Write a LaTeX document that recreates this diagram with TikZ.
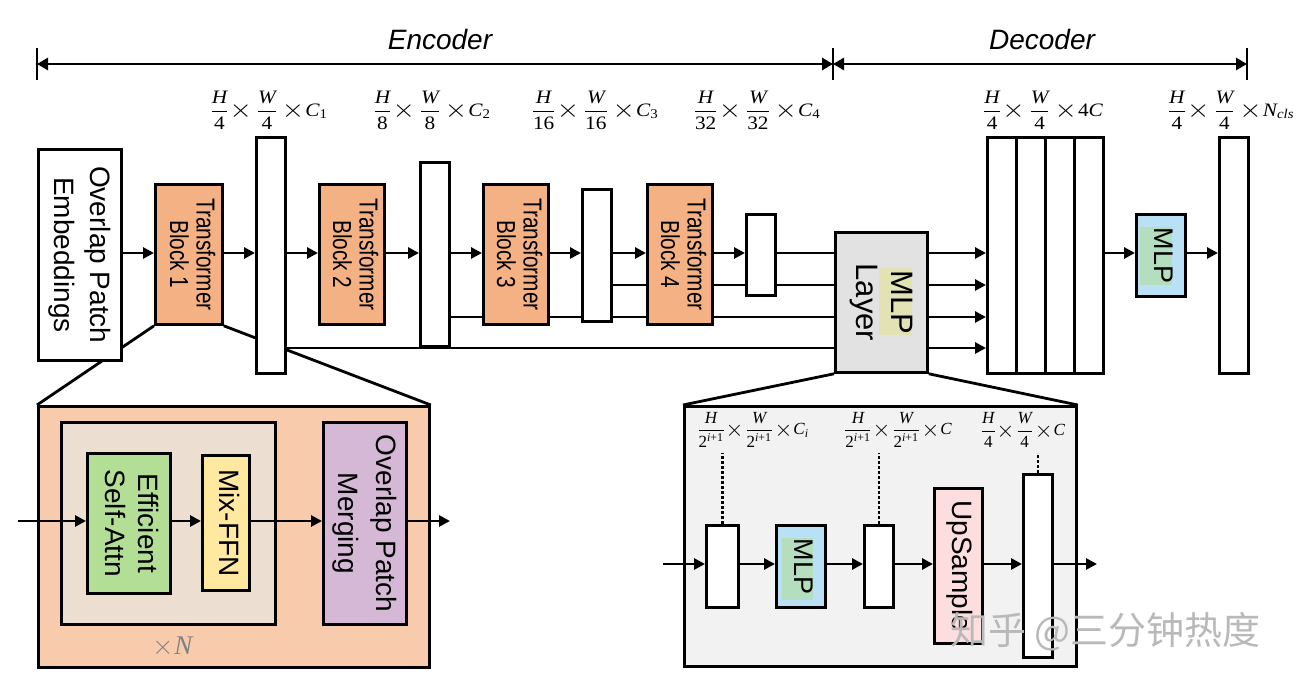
\RequirePackage{fix-cm}
\documentclass[tikz,border=0pt]{standalone}
\usepackage{amsmath}
\usepackage{fontspec}
\setmainfont{Liberation Sans}
\newfontfamily\serf{Liberation Serif}
\newfontfamily\cjk{Noto Sans CJK SC}
\usepackage{graphicx}
\usetikzlibrary{arrows.meta,backgrounds}
\definecolor{cOrange}{RGB}{244,177,131}
\definecolor{cPeach}{RGB}{248,203,173}
\definecolor{cInner}{RGB}{237,222,210}
\definecolor{cGreen}{RGB}{178,222,150}
\definecolor{cYellow}{RGB}{255,232,160}
\definecolor{cPurple}{RGB}{213,184,214}
\definecolor{cGrayL}{RGB}{226,226,226}
\definecolor{cPanel}{RGB}{242,242,242}
\definecolor{cBlue}{RGB}{186,224,246}
\definecolor{cMint}{RGB}{180,222,190}
\definecolor{cHiY}{RGB}{226,226,180}
\definecolor{cPink}{RGB}{252,222,222}
\newcommand\vt[3]{\rotatebox{-90}{#2\scalebox{#1}[1]{\begin{tabular}{@{}c@{}}#3\end{tabular}}}}
\newcommand\mi[1]{\text{\serf\itshape #1}}
\newcommand\mn[1]{\text{\serf #1}}
\newcommand\tms{\mathord{\raisebox{-0.09em}{\scalebox{1.35}{$\times$}}}}
\newcommand\lbl[2]{\scalebox{1.12}[1]{$\dfrac{\mi{H}}{#1}\mkern1mu\tms\mkern4mu\dfrac{\mi{W}}{#1}\mkern4mu\tms\mkern1mu #2$}}
\newcommand\lbls[2]{$\dfrac{\mi{H}}{#1}\mkern1mu\tms\mkern2mu\dfrac{\mi{W}}{#1}\mkern2mu\tms\mkern1mu #2$}
\begin{document}
\begin{tikzpicture}[x=1pt,y=-1pt,
  bx/.style={draw, line width=2.8pt, inner sep=0pt, anchor=north west},
  arr/.style={line width=2.8pt, -{Triangle[length=11pt,width=11pt]}},
  ln/.style={line width=2.8pt},
  tx/.style={inner sep=0pt},
  hl/.style={inner sep=0pt, anchor=north west, draw=none},
  dotl/.style={line width=2.8pt, dash pattern=on 2.5pt off 2.5pt},
  mlab/.style={inner sep=0pt, font=\fontsize{19}{22}\selectfont},
  slab/.style={inner sep=0pt, font=\fontsize{17}{20}\selectfont},
  barr/.style={line width=2.8pt, {Triangle[length=11pt,width=12pt]}-{Triangle[length=11pt,width=12pt]}},
]
\useasboundingbox (0,0) rectangle (1302,684);

% level coordinates
\coordinate (y1) at (0,253);
\coordinate (y2) at (0,285);
\coordinate (y3) at (0,317);
\coordinate (y4) at (0,348);

% Encoder / Decoder bar
\coordinate (eL) at (37,64);
\coordinate (eM) at (833,64);
\coordinate (eR) at (1247,64);
\draw[ln] (eL) ++(0,-16) -- ++(0,32);
\draw[ln] (eM) ++(0,-16) -- ++(0,32);
\draw[ln] (eR) ++(0,-16) -- ++(0,32);
\draw[barr] (eL) -- (eM);
\draw[barr] (eM) -- (eR);
\node[tx, font=\fontsize{28}{30}\selectfont\itshape] (enct) at (440,40) {Encoder};
\node[tx, font=\fontsize{28}{30}\selectfont\itshape] (dect) at (1042,40) {Decoder};

% encoder boxes
\node[bx, fill=white, minimum width=83pt, minimum height=211pt] (emb) at (37,148) {};
\node[bx, fill=cOrange, minimum width=67pt, minimum height=140pt] (tb1) at (154,183) {};
\node[bx, fill=white, minimum width=29pt, minimum height=236pt] (fm1) at (255,136) {};
\node[bx, fill=cOrange, minimum width=65pt, minimum height=140pt] (tb2) at (318,183) {};
\node[bx, fill=white, minimum width=29pt, minimum height=184pt] (fm2) at (419,161) {};
\node[bx, fill=cOrange, minimum width=65pt, minimum height=140pt] (tb3) at (482,183) {};
\node[bx, fill=white, minimum width=29pt, minimum height=132pt] (fm3) at (581,188) {};
\node[bx, fill=cOrange, minimum width=65pt, minimum height=140pt] (tb4) at (646,183) {};
\node[bx, fill=white, minimum width=29pt, minimum height=81pt] (fm4) at (745,213) {};
\node[bx, fill=cGrayL, minimum width=92pt, minimum height=140pt] (mlpl) at (834,231) {};
\node[hl, fill=cHiY, minimum width=33pt, minimum height=67pt] (hl1) at (879,268) {};

% decoder boxes
\node[bx, fill=white, minimum width=29pt, minimum height=236pt] (c1) at (986,136) {};
\node[bx, fill=white, minimum width=29pt, minimum height=236pt] (c2) at (1015,136) {};
\node[bx, fill=white, minimum width=29pt, minimum height=236pt] (c3) at (1044,136) {};
\node[bx, fill=white, minimum width=29pt, minimum height=236pt] (c4) at (1073,136) {};
\node[bx, fill=cBlue, minimum width=49pt, minimum height=82pt] (dmlp) at (1135,213) {};
\node[hl, fill=cMint, minimum width=32pt, minimum height=58pt] (hl2) at (1140,227) {};
\node[bx, fill=white, minimum width=29pt, minimum height=236pt] (out) at (1218,136) {};

% texts in boxes
\node[tx] (embt) at (emb.center) {\vt{1}{\fontsize{28}{36}\selectfont}{Overlap Patch\\Embeddings}};
\node[tx] (tb1t) at (tb1.center) {\vt{0.8}{\fontsize{26}{26}\selectfont}{Transformer\\Block 1}};
\node[tx] (tb2t) at (tb2.center) {\vt{0.8}{\fontsize{26}{26}\selectfont}{Transformer\\Block 2}};
\node[tx] (tb3t) at (tb3.center) {\vt{0.8}{\fontsize{26}{26}\selectfont}{Transformer\\Block 3}};
\node[tx] (tb4t) at (tb4.center) {\vt{0.8}{\fontsize{26}{26}\selectfont}{Transformer\\Block 4}};
\node[tx] (mlplt) at (mlpl.center) {\vt{1}{\fontsize{31}{35}\selectfont}{MLP\\Layer}};
\node[tx] (dmlpt) at (dmlp.center) {\vt{1}{\fontsize{27}{30}\selectfont}{MLP}};

% dimension labels
\node[mlab] (l1) at (269,110) {\lbl{\mn{4}}{\mi{C}_{\mn{1}}}};
\node[mlab] (l2) at (432,110) {\lbl{\mn{8}}{\mi{C}_{\mn{2}}}};
\node[mlab] (l3) at (595,110) {\lbl{\mn{16}}{\mi{C}_{\mn{3}}}};
\node[mlab] (l4) at (757,110) {\lbl{\mn{32}}{\mi{C}_{\mn{4}}}};
\node[mlab] (l5) at (1043,110) {\lbl{\mn{4}}{\mn{4}\mi{C}}};
\node[mlab] (l6) at (1231,110) {\lbl{\mn{4}}{\mi{N}_{\mi{cls}}}};

% encoder chain
\draw[arr] (emb.east |- y1) -- (tb1.west |- y1);
\draw[arr] (tb1.east |- y1) -- (fm1.west |- y1);
\draw[arr] (fm1.east |- y1) -- (tb2.west |- y1);
\draw[arr] (tb2.east |- y1) -- (fm2.west |- y1);
\draw[arr] (fm2.east |- y1) -- (tb3.west |- y1);
\draw[arr] (tb3.east |- y1) -- (fm3.west |- y1);
\draw[arr] (fm3.east |- y1) -- (tb4.west |- y1);
\draw[arr] (tb4.east |- y1) -- (fm4.west |- y1);
\draw[ln] (fm4.east |- y1) -- (mlpl.west |- y1);
\foreach \c in {y1,y2,y3,y4} \draw[arr] (mlpl.east |- \c) -- (c1.west |- \c);
\draw[arr] (c4.east |- y1) -- (dmlp.west |- y1);
\draw[arr] (dmlp.east |- y1) -- (out.west |- y1);

% bottom-left detail
\node[bx, fill=cPeach, minimum width=391pt, minimum height=261pt] (zl) at (37,405) {};
\node[bx, fill=cInner, minimum width=214pt, minimum height=202pt] (nb) at (60,421) {};
\node[bx, fill=cGreen, minimum width=83pt, minimum height=140pt] (esa) at (86,452) {};
\node[bx, fill=cYellow, minimum width=47pt, minimum height=135pt] (mix) at (201,454) {};
\node[bx, fill=cPurple, minimum width=83pt, minimum height=202pt] (opm) at (322,421) {};
\node[tx] (esat) at (esa.center) {\vt{1}{\fontsize{28}{33}\selectfont}{Efficient\\Self-Attn}};
\node[tx] (mixt) at (mix.center) {\vt{1}{\fontsize{28}{30}\selectfont}{Mix-FFN}};
\node[tx] (opmt) at (opm.center) {\vt{1}{\fontsize{28}{38}\selectfont}{Overlap Patch\\Merging}};
\node[tx, text=gray, font=\serf\fontsize{27}{29}\selectfont] (xn) at (173,647) {$\times$\kern1pt\textit{N}};
\coordinate (inL) at (18,521);
\coordinate (outL) at (450,521);
\draw[arr] (inL) -- (esa.west |- inL);
\draw[arr] (esa.east |- inL) -- (mix.west |- inL);
\draw[arr] (mix.east |- inL) -- (opm.west |- inL);
\draw[arr] (opm.east |- inL) -- (outL);

% bottom-right detail
\node[bx, fill=cPanel, minimum width=392pt, minimum height=260pt] (zr) at (683,405) {};
\node[bx, fill=white, minimum width=32pt, minimum height=82pt] (b1) at (705,524) {};
\node[bx, fill=cBlue, minimum width=49pt, minimum height=82pt] (smlp) at (775,524) {};
\node[hl, fill=cMint, minimum width=31pt, minimum height=62pt] (hl3) at (782,538) {};
\node[bx, fill=white, minimum width=29pt, minimum height=82pt] (b2) at (863,524) {};
\node[bx, fill=cPink, minimum width=48pt, minimum height=155pt] (ups) at (933,487) {};
\node[bx, fill=white, minimum width=29pt, minimum height=183pt] (big) at (1022,473) {};
\node[tx] (smlpt) at (smlp.center) {\vt{1}{\fontsize{27}{30}\selectfont}{MLP}};
\node[tx] (upst) at (ups.center) {\vt{1}{\fontsize{28}{30}\selectfont}{UpSample}};
\node[slab] (l7) at (753,430) {\lbls{\mn{2}^{\mi{i}\mn{+1}}}{\mi{C}_{\mi{i}}}};
\node[slab] (l8) at (898,430) {\lbls{\mn{2}^{\mi{i}\mn{+1}}}{\mi{C}}};
\node[slab] (l9) at (1023,430) {\lbls{\mn{4}}{\mi{C}}};
\draw[dotl] (b1.north) -- ++(0,-71);
\draw[dotl] (b2.north) -- ++(0,-71);
\draw[dotl] (big.north) -- ++(0,-20);
\coordinate (inR) at (663,564);
\coordinate (outR) at (1097,564);
\draw[arr] (inR) -- (b1.west |- inR);
\draw[arr] (b1.east |- inR) -- (smlp.west |- inR);
\draw[arr] (smlp.east |- inR) -- (b2.west |- inR);
\draw[arr] (b2.east |- inR) -- (ups.west |- inR);
\draw[arr] (ups.east |- inR) -- (big.west |- inR);
\draw[arr] (big.east |- inR) -- (outR);

% watermark
\node[tx, text=gray!55, font=\cjk\fontsize{38}{40}\selectfont, anchor=west] (wm) at (950,632) {知乎 @三分钟热度};

% lines behind boxes
\begin{scope}[on background layer]
\draw[ln] (fm3.east |- y2) -- (mlpl.west |- y2);
\draw[ln] (fm2.east |- y3) -- (mlpl.west |- y3);
\draw[ln] (fm1.east |- y4) -- (mlpl.west |- y4);
\draw[ln] (tb1.south west) -- (zl.north west);
\draw[ln] (tb1.south east) -- (zl.north east);
\draw[ln] (mlpl.south west) -- (zr.north west);
\draw[ln] (mlpl.south east) -- (zr.north east);
\end{scope}
\end{tikzpicture}
\end{document}
